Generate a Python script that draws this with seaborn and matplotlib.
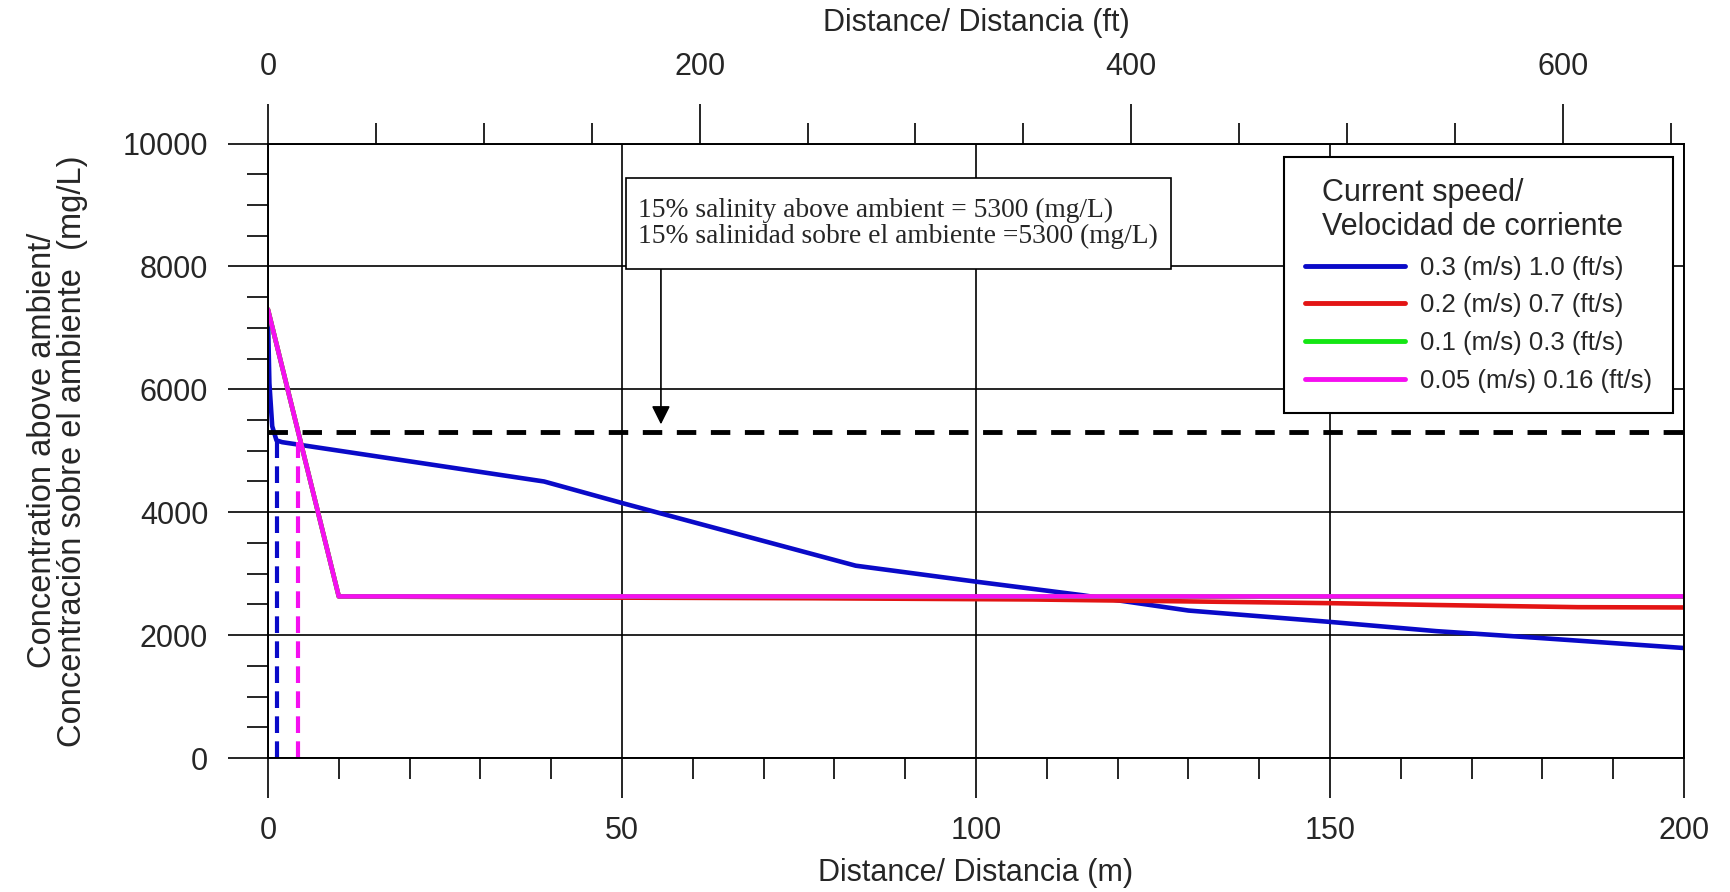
import pandas as pd
import matplotlib
matplotlib.use("Agg")
import matplotlib.pyplot as plt
from matplotlib.path import Path
from matplotlib.ticker import MultipleLocator
import seaborn as sns

# concentration above ambient (mg/L) against distance (m)
dist_03 = [0, 0.2, 0.6, 1.2, 2, 39, 50, 83, 100, 115, 130, 150, 165, 180, 200]
conc_03 = [7180, 6100, 5400, 5170, 5140, 4500, 4150, 3130, 2870, 2650, 2400, 2215, 2065, 1950, 1790]

dist_02 = [0, 10, 35, 77, 108, 150, 165, 185, 200]
conc_02 = [7300, 2630, 2615, 2600, 2580, 2520, 2490, 2455, 2450]

dist_01 = [0, 10, 200]
conc_01 = [7300, 2630, 2625]

dist_005 = [0, 10, 200]
conc_005 = [7300, 2630, 2630]

speed_labels = ["0.3 (m/s) 1.0 (ft/s)", "0.2 (m/s) 0.7 (ft/s)",
                "0.1 (m/s) 0.3 (ft/s)", "0.05 (m/s) 0.16 (ft/s)"]
speed_colors = ["#0a0ac8", "#e31414", "#14e614", "#f50ff0"]

threshold = 5300      # 15% salinity above ambient
cross_03 = 1.3        # distance where 0.3 m/s curve falls under threshold
cross_005 = 4.3       # same for 0.05 m/s
M_TO_FT = 3.28084

frames = []
for lab, d, c in zip(speed_labels, [dist_03, dist_02, dist_01, dist_005],
                     [conc_03, conc_02, conc_01, conc_005]):
    frames.append(pd.DataFrame({"dist": d, "conc": c, "speed": lab}))
df = pd.concat(frames, ignore_index=True)


def note_box(x0, y0, width, height, mutation_size):
    # plain rectangle, more padding top/bottom than left/right
    padx = 0.45 * mutation_size
    pady = 0.75 * mutation_size
    x0, y0 = x0 - padx, y0 - pady
    x1, y1 = x0 + width + 2 * padx, y0 + height + 2 * pady
    return Path([(x0, y0), (x1, y0), (x1, y1), (x0, y1), (x0, y0)], closed=True)


sns.set_style("ticks")
plt.rcParams["font.family"] = ["Liberation Sans", "DejaVu Sans"]

fig = plt.figure(figsize=(17.31, 8.92), dpi=100)
ax = fig.add_axes([0.1548, 0.1502, 0.8181, 0.6889])

sns.lineplot(data=df, x="dist", y="conc", hue="speed", hue_order=speed_labels,
             palette=dict(zip(speed_labels, speed_colors)), estimator=None,
             linewidth=3.3, ax=ax)

# threshold and crossing markers
ax.hlines(threshold, 0, 200, colors="black", linestyles=(0, (4, 3)), linewidth=3.5)
ax.vlines(cross_03, 0, 5150, colors=speed_colors[0], linestyles=(0, (4, 2)), linewidth=3)
ax.vlines(cross_005, 0, 5150, colors=speed_colors[3], linestyles=(0, (4, 2)), linewidth=3)

ax.set_xlim(0, 200)
ax.set_ylim(0, 10000)
ax.xaxis.set_major_locator(MultipleLocator(50))
ax.xaxis.set_minor_locator(MultipleLocator(10))
ax.yaxis.set_major_locator(MultipleLocator(2000))
ax.yaxis.set_minor_locator(MultipleLocator(500))
ax.tick_params(which="major", direction="out", length=29, width=1.2,
               labelsize=22, pad=14, color="black")
ax.tick_params(axis="x", which="major", pad=13)
ax.tick_params(which="minor", direction="out", length=15, width=1.2, color="black")
ax.grid(True, which="major", color="black", linewidth=1.2)
for sp in ax.spines.values():
    sp.set_color("black")
    sp.set_linewidth(1.2)

ax.set_xlabel("Distance/ Distancia (m)", fontsize=22)
ax.xaxis.set_label_coords(0.5, -0.163)
ax.set_ylabel("Concentration above ambient/\nConcentración sobre el ambiente  (mg/L)",
              fontsize=23.5, linespacing=0.95)
ax.yaxis.set_label_coords(-0.127, 0.5)

# salinity note with arrow
ax.text(52.3, 8700, "15% salinity above ambient = 5300 (mg/L)\n"
        "15% salinidad sobre el ambiente =5300 (mg/L)",
        family=["Liberation Serif"], fontsize=19.8, ha="left", va="center",
        linespacing=1.0, zorder=5,
        bbox=dict(boxstyle=note_box, fc="white", ec="black", lw=1.2))
ax.annotate("", xy=(55.5, 5430), xytext=(55.5, 7990),
            arrowprops=dict(arrowstyle="-|>", color="black", lw=1.2,
                            mutation_scale=28, shrinkA=0, shrinkB=0))

handles, labels = ax.get_legend_handles_labels()
leg = ax.legend(handles, labels, title="  Current speed/\n  Velocidad de corriente",
                loc="upper right", bbox_to_anchor=(0.992, 0.978), borderaxespad=0,
                fontsize=18.5, title_fontsize=22, frameon=True, fancybox=False,
                edgecolor="black", framealpha=1, handlelength=3.9, handletextpad=0.58,
                labelspacing=0.53, borderpad=0.8, alignment="left")
leg.get_frame().set_linewidth(1.5)
for h in leg.get_lines():
    h.set_linewidth(3.5)

# feet scale along the top
ax2 = ax.twiny()
ax2.set_xlim(0, 200 * M_TO_FT)
ax2.xaxis.set_major_locator(MultipleLocator(200))
ax2.xaxis.set_minor_locator(MultipleLocator(50))
ax2.tick_params(which="major", direction="out", length=29, width=1.2,
                labelsize=22, pad=15, color="black")
ax2.tick_params(which="minor", direction="out", length=15, width=1.2, color="black")
for sp in ax2.spines.values():
    sp.set_color("black")
    sp.set_linewidth(1.2)
ax2.set_xlabel("Distance/ Distancia (ft)", fontsize=22)
ax2.xaxis.set_label_coords(0.5, 1.183)

fig.savefig("out.png", dpi=100, facecolor="white")
